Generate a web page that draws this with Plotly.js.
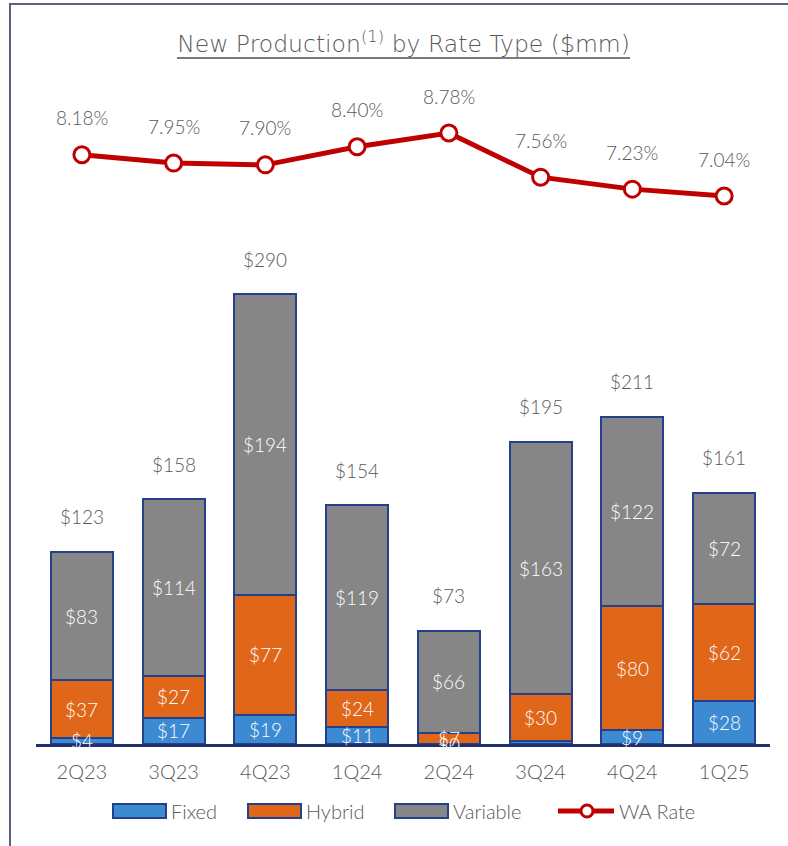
<!DOCTYPE html>
<html><head><meta charset="utf-8">
<script src="https://cdn.plot.ly/plotly-3.0.1.min.js"></script>
<style>
html,body{margin:0;padding:0;background:#fff;}
#chart{width:788px;height:846px;}
#frame{position:absolute;left:9px;top:3px;width:800px;height:900px;border-left:2px solid #5f5f80;border-top:2px solid #5f5f80;pointer-events:none;}
</style>
</head><body>
<div id="chart"></div>
<div id="frame"></div>
<script>
const quarters = ['2Q23','3Q23','4Q23','1Q24','2Q24','3Q24','4Q24','1Q25'];
const fixedVals = [4,17,19,11,0,2,9,28];
const fixedLabels = ['$4','$17','$19','$11','$0','','$9','$28'];
const hybridVals = [37,27,77,24,7,30,80,62];
const variableVals = [83,114,194,119,66,163,122,72];
const totals = [123,158,290,154,73,195,211,161];
const waRate = [8.18,7.95,7.90,8.40,8.78,7.56,7.23,7.04];

const FONT = 'Lato, "Noto Sans", sans-serif';
const TFONT = '"DejaVu Sans", sans-serif';
const GRAY = '#595959';
const EDGE = '#23408a';
const COLORS = {Fixed:'#3c8ad2', Hybrid:'#e0661a', Variable:'#868686', WA:'#c00000'};

const barCommon = {type:'bar', x:quarters, hoverinfo:'skip', showlegend:false};
const traces = [
  Object.assign({}, barCommon, {name:'Fixed', y:fixedVals, marker:{color:COLORS.Fixed, line:{color:EDGE, width:2}}}),
  Object.assign({}, barCommon, {name:'Hybrid', y:hybridVals, marker:{color:COLORS.Hybrid, line:{color:EDGE, width:2}}}),
  Object.assign({}, barCommon, {name:'Variable', y:variableVals, marker:{color:COLORS.Variable, line:{color:EDGE, width:2}}}),
  {type:'scatter', mode:'lines+markers', name:'WA Rate', x:quarters, y:waRate, yaxis:'y2', showlegend:false,
    line:{color:COLORS.WA, width:5},
    marker:{size:16, color:'#ffffff', line:{color:COLORS.WA, width:3}}, cliponaxis:false, hoverinfo:'skip'}
];

const lab = (size, color) => ({family:FONT, size:size, color:color, weight:300});
const annotations = [];
quarters.forEach((q,i)=>{
  const f = fixedVals[i], h = hybridVals[i], v = variableVals[i];
  const top = f+h+v;
  annotations.push({x:q, y:top, xref:'x', yref:'y', text:'$'+totals[i], showarrow:false, yshift:35, font:lab(19, GRAY)});
  annotations.push({x:q, y:waRate[i], xref:'x', yref:'y2', text:waRate[i].toFixed(2)+'%', showarrow:false, yshift:37, font:lab(19, GRAY)});
  if (fixedLabels[i]) annotations.push({x:q, y:f/2, xref:'x', yref:'y', text:fixedLabels[i], showarrow:false, font:lab(19,'#ffffff')});
  annotations.push({x:q, y:f+h/2, xref:'x', yref:'y', text:'$'+h, showarrow:false, font:lab(19,'#ffffff')});
  annotations.push({x:q, y:f+h+v/2, xref:'x', yref:'y', text:'$'+v, showarrow:false, font:lab(19,'#ffffff')});
});

// custom legend (pixel layout -> paper coords)
const PL = 36, PW = 734, PB = 744, PH = 724;
const px = p => (p-PL)/PW, py = p => (PB-p)/PH;
const shapes = [];
const legendY = 811;
const legendItems = [
  {name:'Fixed', color:COLORS.Fixed, x:113},
  {name:'Hybrid', color:COLORS.Hybrid, x:248},
  {name:'Variable', color:COLORS.Variable, x:395}
];
legendItems.forEach(it=>{
  shapes.push({type:'rect', xref:'paper', yref:'paper', x0:px(it.x), x1:px(it.x+53), y0:py(legendY+7), y1:py(legendY-7),
    fillcolor:it.color, line:{color:EDGE, width:2}});
  annotations.push({xref:'paper', yref:'paper', x:px(it.x+56), y:py(legendY), xanchor:'left', yanchor:'middle',
    text:it.name, showarrow:false, font:lab(20, GRAY)});
});
shapes.push({type:'line', xref:'paper', yref:'paper', x0:px(558), x1:px(614), y0:py(legendY), y1:py(legendY),
  line:{color:COLORS.WA, width:5}});
shapes.push({type:'circle', xref:'paper', yref:'paper', xsizemode:'pixel', ysizemode:'pixel',
  xanchor:px(587), yanchor:py(legendY), x0:-6, x1:6, y0:-6, y1:6, fillcolor:'#ffffff', line:{color:COLORS.WA, width:3}});
annotations.push({xref:'paper', yref:'paper', x:px(617), y:py(legendY), xanchor:'left', yanchor:'middle',
  text:traces[3].name, showarrow:false, font:lab(20, GRAY)});
// title underline
shapes.push({type:'line', xref:'paper', yref:'paper', x0:px(177), x1:px(630), y0:py(58), y1:py(58), line:{color:'#4f4f4f', width:1.3}});

const layout = {
  width:788, height:846,
  margin:{l:PL, r:788-PL-PW, t:PB-PH, b:846-PB},
  paper_bgcolor:'#ffffff', plot_bgcolor:'rgba(0,0,0,0)',
  barmode:'stack', bargap:0.324,
  title:{text:'New Production<sup>(1)</sup> by Rate Type ($mm)', x:403.5/788, xanchor:'center',
    y:1-44/846, yanchor:'middle', yref:'container', font:{family:TFONT, size:23.5, color:GRAY, weight:200}},
  xaxis:{type:'category', range:[-0.5,7.5], showline:true, linecolor:'#1f2f6f', linewidth:3,
    ticks:'', showgrid:false, tickfont:lab(20, GRAY), ticklabelstandoff:8},
  yaxis:{range:[0,467], visible:false, showgrid:false, zeroline:false},
  yaxis2:{range:[-8.098,11.902], overlaying:'y', visible:false, showgrid:false, zeroline:false},
  showlegend:false,
  shapes:shapes,
  annotations:annotations
};

Plotly.newPlot('chart', traces, layout, {displayModeBar:false, staticPlot:true});
</script>
</body></html>
